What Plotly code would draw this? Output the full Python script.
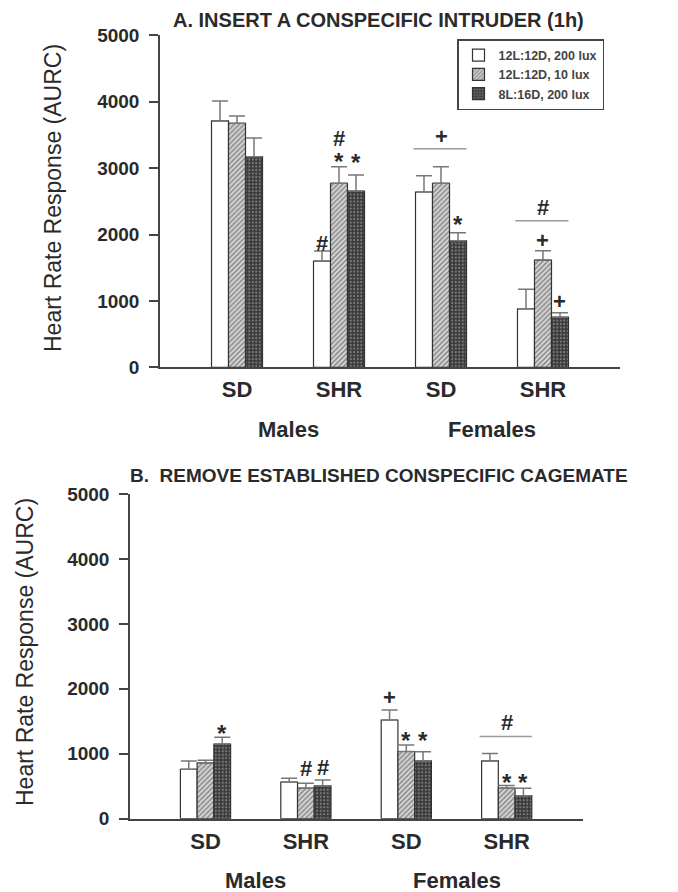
import plotly.graph_objects as go

# ---------------- data ----------------
groups = ["SD", "SHR", "SD", "SHR"]          # Males: SD, SHR | Females: SD, SHR
sexes = ["Males", "Females"]
series_names = ["12L:12D, 200 lux", "12L:12D, 10 lux", "8L:16D, 200 lux"]

# Panel A: insert a conspecific intruder (1h)
a_light200 = [3710, 1600, 2640, 880]
a_light200_err = [300, 150, 245, 295]
a_light10 = [3675, 2770, 2770, 1615]
a_light10_err = [110, 250, 250, 140]
a_short = [3170, 2655, 1905, 755]
a_short_err = [285, 240, 120, 65]

# Panel B: remove established conspecific cagemate
b_light200 = [760, 565, 1520, 890]
b_light200_err = [128, 56, 154, 114]
b_light10 = [860, 470, 1035, 470]
b_light10_err = [40, 77, 101, 40]
b_short = [1150, 505, 890, 355]
b_short_err = [103, 92, 140, 114]

y_ticks = [0, 1000, 2000, 3000, 4000, 5000]

# significance marks: (panel, group, series, symbol, px above error cap)
sig_marks = [
    (0, 1, 0, "#", 8), (0, 1, 1, "*", 10), (0, 1, 1, "#", 28), (0, 1, 2, "*", 18),
    (0, 2, 2, "*", 13), (0, 3, 1, "+", 10), (0, 3, 2, "+", 11),
    (1, 0, 2, "*", 9), (1, 1, 1, "#", 15), (1, 1, 2, "#", 12), (1, 2, 0, "+", 12),
    (1, 2, 1, "*", 9), (1, 2, 2, "*", 16), (1, 3, 1, "*", 8), (1, 3, 2, "*", 11),
]
# group-wide marks: (panel, group, symbol, line px above group top, symbol px above line)
sig_lines = [(0, 2, "+", 18, 12), (0, 3, "#", 30, 13), (1, 3, "#", 17, 14)]

# ---------------- layout constants ----------------
W, H = 678, 892
FONT = "Arial, Liberation Sans, sans-serif"
TXT = "#2a2a2a"
AX = "#444444"
domains = [
    dict(x=[160 / W, 620 / W], y=[1 - 367.3 / H, 1 - 35.3 / H], xr=[-0.755, 3.755]),
    dict(x=[130 / W, 583 / W], y=[1 - 818.7 / H, 1 - 494 / H], xr=[-0.752, 3.76]),
]
BARGAP = 0.5
bw = (1 - BARGAP) / 3

panels = [
    ([a_light200, a_light10, a_short], [a_light200_err, a_light10_err, a_short_err]),
    ([b_light200, b_light10, b_short], [b_light200_err, b_light10_err, b_short_err]),
]

markers = [
    dict(color="white", line=dict(color="#333333", width=1.2)),
    dict(color="#dddddd", line=dict(color="#333333", width=1.2),
         pattern=dict(shape="/", fgcolor="#3a3a3a", bgcolor="#d8d8d8", size=3.5, solidity=0.45)),
    dict(color="#555555", line=dict(color="#333333", width=1.2),
         pattern=dict(shape=".", fgcolor="#bdbdbd", bgcolor="#3a3a3a", size=3.5, solidity=0.3)),
]

xpos = list(range(len(groups)))
fig = go.Figure()
for p, (vals, errs) in enumerate(panels):
    xa = "x" if p == 0 else "x2"
    ya = "y" if p == 0 else "y2"
    for k in range(3):
        fig.add_trace(go.Bar(
            x=xpos, y=vals[k], name=series_names[k], xaxis=xa, yaxis=ya,
            marker=markers[k], legendgroup=series_names[k], showlegend=(p == 0),
            error_y=dict(type="data", symmetric=False, array=errs[k],
                         arrayminus=[0] * len(groups), color="#777777",
                         thickness=1.5, width=8),
        ))

annotations = []
shapes = []
for p, d in enumerate(domains):
    ppu = (d["y"][1] - d["y"][0]) * H / 5000.0  # px per data unit
    vals, errs = panels[p]
    xref = "x" if p == 0 else "x2"
    yref = "y" if p == 0 else "y2"
    for (pp, g, k, sym, off) in sig_marks:
        if pp != p:
            continue
        top = vals[k][g] + errs[k][g]
        annotations.append(dict(
            x=g + (k - 1) * bw, y=top + off / ppu, xref=xref, yref=yref,
            text="<b>%s</b>" % sym, showarrow=False, yanchor="middle",
            yshift=-5 if sym == "*" else 0,
            font=dict(family=FONT, size=22 if sym != "*" else 24, color=TXT)))
    for (pp, g, sym, loff, soff) in sig_lines:
        if pp != p:
            continue
        gtop = max(vals[k][g] + errs[k][g] for k in range(3))
        ly = gtop + loff / ppu
        shapes.append(dict(type="line", xref=xref, yref=yref,
                           x0=g - 1.5 * bw - 0.02, x1=g + 1.5 * bw,
                           y0=ly, y1=ly, line=dict(color="#999999", width=1.3)))
        annotations.append(dict(
            x=g, y=ly + soff / ppu, xref=xref, yref=yref, text="<b>%s</b>" % sym,
            showarrow=False, yanchor="middle",
            font=dict(family=FONT, size=22, color=TXT)))

# titles
annotations.append(dict(text="<b>A. INSERT A CONSPECIFIC INTRUDER (1h)</b>",
                        x=171 / W, y=1 - 20 / H, xref="paper", yref="paper",
                        xanchor="left", yanchor="middle", showarrow=False,
                        font=dict(family=FONT, size=20, color=TXT)))
annotations.append(dict(text="<b>B.\u00a0 REMOVE ESTABLISHED CONSPECIFIC CAGEMATE</b>",
                        x=128 / W, y=1 - 475 / H, xref="paper", yref="paper",
                        xanchor="left", yanchor="middle", showarrow=False,
                        font=dict(family=FONT, size=19, color=TXT)))
# y titles
for yc, xc in [(198, 53), (652, 25)]:
    annotations.append(dict(text="Heart Rate Response (AURC)", textangle=-90,
                            x=xc / W, y=1 - yc / H, xref="paper", yref="paper",
                            xanchor="center", yanchor="middle", showarrow=False,
                            font=dict(family=FONT, size=23, color=TXT)))
# sex labels
for p, yc in [(0, 429.3), (1, 880.7)]:
    xref = "x" if p == 0 else "x2"
    for s, sex in enumerate(sexes):
        annotations.append(dict(text="<b>%s</b>" % sex, x=2 * s + 0.5, xref=xref,
                                y=1 - yc / H, yref="paper", yanchor="middle",
                                showarrow=False,
                                font=dict(family=FONT, size=22, color=TXT)))

def xaxis(d, anchor):
    return dict(domain=d["x"], range=d["xr"], anchor=anchor, showline=True,
                linecolor=AX, linewidth=1.5, ticks="", showgrid=False,
                zeroline=False, tickvals=xpos, ticktext=["<b>%s</b>" % g for g in groups],
                tickfont=dict(family=FONT, size=22, color=TXT), automargin=False,
                ticklabelstandoff=2)

def yaxis(d, anchor):
    return dict(domain=d["y"], range=[0, 5000], anchor=anchor, showline=True,
                linecolor=AX, linewidth=1.5, ticks="outside", ticklen=9,
                tickcolor=AX, tickwidth=1.5, showgrid=False, zeroline=False,
                tickvals=y_ticks, ticktext=["<b>%d</b>" % v for v in y_ticks],
                tickfont=dict(family=FONT, size=19, color=TXT), automargin=False,
                ticklabelstandoff=6)

fig.update_layout(
    width=W, height=H, margin=dict(l=0, r=0, t=0, b=0),
    paper_bgcolor="white", plot_bgcolor="white",
    barmode="group", bargap=BARGAP, bargroupgap=0,
    xaxis=xaxis(domains[0], "y"), yaxis=yaxis(domains[0], "x"),
    xaxis2=xaxis(domains[1], "y2"), yaxis2=yaxis(domains[1], "x2"),
    annotations=annotations, shapes=shapes,
    legend=dict(x=457 / W, y=1 - 39 / H, xanchor="left", yanchor="top",
                bordercolor=AX, borderwidth=1.5, bgcolor="white",
                font=dict(family=FONT, size=12.5, color="#444444", weight="bold"),
                tracegroupgap=0, itemwidth=30),
    showlegend=True,
)

fig.write_html("out.html", config={"displayModeBar": False},
               post_script="document.body.style.margin='0px';document.body.style.overflow='hidden';")
